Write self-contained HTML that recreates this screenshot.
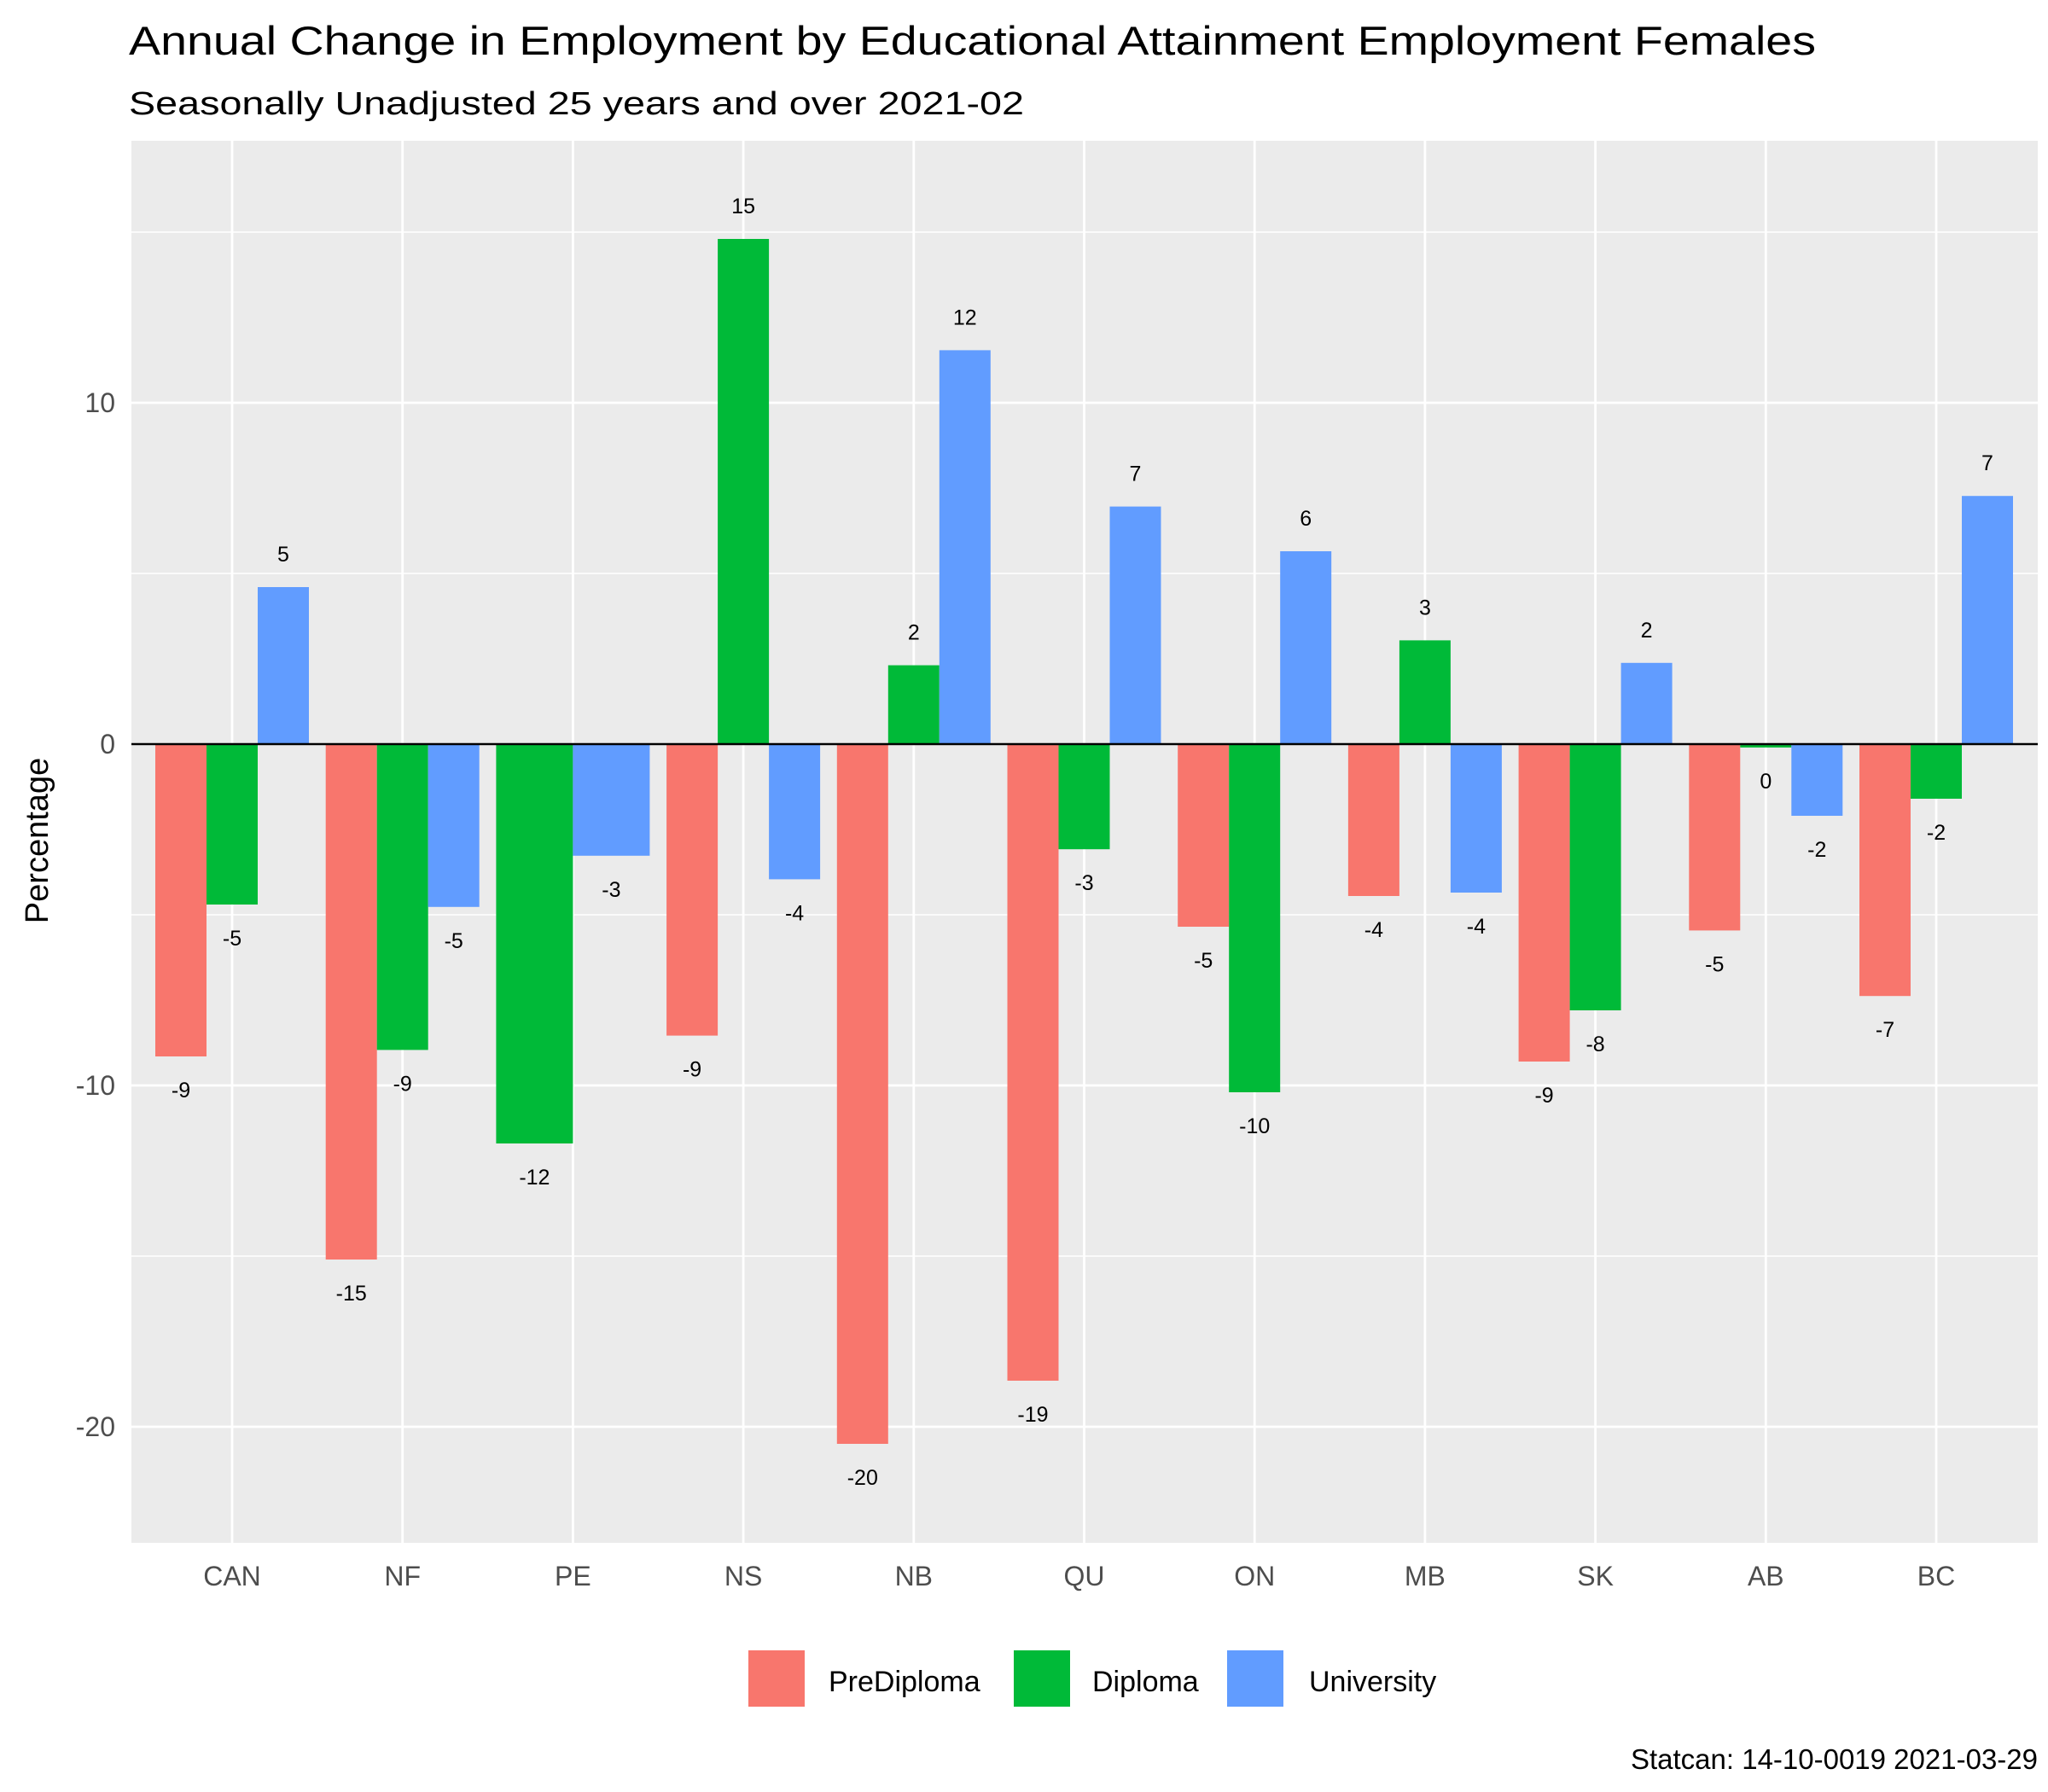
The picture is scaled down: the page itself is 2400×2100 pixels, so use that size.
<!DOCTYPE html>
<html><head><meta charset="utf-8"><style>body{margin:0;background:#fff}svg{display:block;font-family:"Liberation Sans",Arial,sans-serif}</style></head>
<body>
<svg id="chart" width="2400" height="2100" viewBox="0 0 2400 2100">
<rect width="2400" height="2100" fill="#fff"/>
<text x="151" y="64" font-size="47" fill="#000" textLength="1977" lengthAdjust="spacingAndGlyphs">Annual Change in Employment by Educational Attainment Employment Females</text>
<text x="151" y="134" font-size="38" fill="#000" textLength="1049" lengthAdjust="spacingAndGlyphs">Seasonally Unadjusted 25 years and over 2021-02</text>
<rect x="154" y="165" width="2234" height="1643" fill="#EBEBEB"/>
<g id="grid"></g><g id="bars"></g><g id="labels"></g><g id="axes"></g>
<text transform="translate(56,985) rotate(-90)" text-anchor="middle" font-size="38" fill="#000">Percentage</text>
<g>
<rect x="877" y="1934" width="66" height="66" fill="#F8766D"/>
<text x="971" y="1982" font-size="34">PreDiploma</text>
<rect x="1188" y="1934" width="66" height="66" fill="#00BA38"/>
<text x="1280" y="1982" font-size="34">Diploma</text>
<rect x="1438" y="1934" width="66" height="66" fill="#619CFF"/>
<text x="1534" y="1982" font-size="34">University</text>
</g>
<text x="2388" y="2073" text-anchor="end" font-size="33">Statcan: 14-10-0019 2021-03-29</text>
</svg>
<script>
const categories = ["CAN","NF","PE","NS","NB","QU","ON","MB","SK","AB","BC"];
const seriesNames = ["PreDiploma","Diploma","University"];
const preDiploma = [-9.15,-15.1,null,-8.54,-20.5,-18.65,-5.35,-4.45,-9.3,-5.46,-7.38];
const diploma = [-4.7,-8.96,-11.7,14.8,2.31,-3.08,-10.2,3.04,-7.8,-0.1,-1.6];
const university = [4.6,-4.77,-3.27,-3.96,11.54,6.96,5.65,-4.35,2.38,-2.1,7.27];
const yMajorTicks = [-20,-10,0,10];
const yMinorTicks = [-15,-5,5,15];
const colors = ["#F8766D","#00BA38","#619CFF"];
const NS="http://www.w3.org/2000/svg";
const y = v => 872 - v*40;
const x = i => 272 + i*199.7;
function mk(tag, attrs, parent){const e=document.createElementNS(NS,tag);for(const k in attrs)e.setAttribute(k,attrs[k]);parent.appendChild(e);return e;}
const grid=document.getElementById('grid'), bars=document.getElementById('bars'), labels=document.getElementById('labels'), axes=document.getElementById('axes');
yMinorTicks.forEach(t=>{const l=mk('line',{x1:154,x2:2388,y1:y(t),y2:y(t),stroke:'#fff','stroke-width':1.4},grid);

});
yMajorTicks.forEach(t=>{const l=mk('line',{x1:154,x2:2388,y1:y(t),y2:y(t),stroke:'#fff','stroke-width':2.8},grid);


const tx=mk('text',{x:135,y:y(t)+11,'text-anchor':'end','font-size':32,fill:'#4D4D4D'},axes);tx.textContent=t;

});
categories.forEach((c,i)=>{const l=mk('line',{x1:x(i),x2:x(i),y1:165,y2:1808,stroke:'#fff','stroke-width':2.8},grid);


const tx=mk('text',{x:x(i),y:1858,'text-anchor':'middle','font-size':32,fill:'#4D4D4D'},axes);tx.textContent=c;

});
function fmt(v){let r=Math.round(v);if(Math.abs(v-Math.trunc(v))===0.5){r=Math.trunc(v);if(r%2!==0)r+=Math.sign(v);}if(Object.is(r,-0))r=0;return String(r);}
const all=[preDiploma,diploma,university];
categories.forEach((c,i)=>{
  const present=[0,1,2].filter(s=>all[s][i]!==null);
  const n=present.length;const w=180/n;
  present.forEach((s,k)=>{const v=all[s][i];
    const cx=x(i)-90+w*(k+0.5);const top=Math.min(y(v),y(0));const h=Math.abs(y(v)-y(0));
    const r=mk('rect',{x:cx-w/2,y:top,width:w,height:Math.max(h,0.5),fill:colors[s]},bars);
    
    
    const ly=v>=0?y(v)-30:y(v)+48;
    const t=mk('text',{x:cx,y:ly,'text-anchor':'middle','font-size':25,fill:'#000'},labels);t.textContent=fmt(v);
    
    
  });
});
const z=mk('line',{x1:154,x2:2388,y1:y(0),y2:y(0),stroke:'#000','stroke-width':2.5},labels);


</script>
</body></html>
